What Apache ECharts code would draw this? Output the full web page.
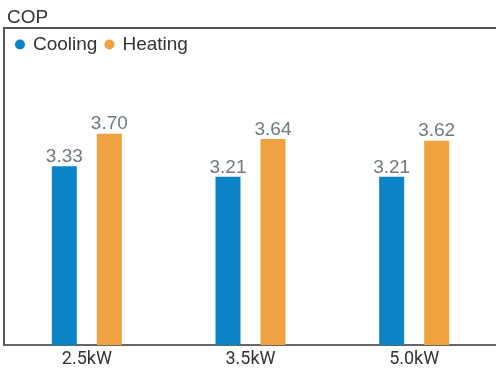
<!DOCTYPE html>
<html>
<head>
<meta charset="utf-8">
<script src="https://cdn.jsdelivr.net/npm/echarts@6/dist/echarts.min.js"></script>
<style>
  html, body { margin: 0; padding: 0; background: #fff; }
  #chart { width: 496px; height: 370px; }
</style>
</head>
<body>
<div id="chart"></div>
<script>
// Unit sizes and COP values per mode
const categories = ['2.5kW', '3.5kW', '5.0kW'];
const coolingCOP = [3.33, 3.21, 3.21];
const heatingCOP = [3.70, 3.64, 3.62];
const seriesNames = ['Cooling', 'Heating'];

const chart = echarts.init(document.getElementById('chart'), null, { renderer: 'canvas' });

const valueLabel = {
  show: true,
  position: 'top',
  distance: 0,
  color: '#6f7982',
  fontSize: 19,
  fontFamily: 'Liberation Sans, Arial, sans-serif',
  formatter: p => p.value.toFixed(2)
};

const frameStyle = { stroke: '#555', lineWidth: 2 };

chart.setOption({
  animation: false,
  title: {
    text: 'COP',
    left: 2,
    top: 3,
    textStyle: { fontSize: 19, fontWeight: 'normal', color: '#333', fontFamily: 'Liberation Sans, Arial, sans-serif' }
  },
  legend: {
    left: 10,
    top: 30,
    icon: 'circle',
    itemWidth: 16,
    itemHeight: 10,
    itemGap: 7,
    textStyle: { fontSize: 19, color: '#333', fontFamily: 'Liberation Sans, Arial, sans-serif' }
  },
  // open frame: left edge and top edge of the plot box
  graphic: [
    { type: 'line', shape: { x1: 4, y1: 28, x2: 4, y2: 346 }, style: frameStyle, silent: true },
    { type: 'line', shape: { x1: 3, y1: 28, x2: 496, y2: 28 }, style: frameStyle, silent: true }
  ],
  grid: {
    left: 5,
    top: 28,
    width: 493,
    height: 317
  },
  xAxis: {
    type: 'category',
    data: categories,
    axisLine: { show: true, lineStyle: { color: '#666', width: 2 } },
    axisTick: { show: false },
    axisLabel: { color: '#333', fontSize: 18, margin: 5, fontFamily: 'Roboto, sans-serif' }
  },
  yAxis: {
    type: 'value',
    min: 1.3,
    max: 4.9,
    show: false,
    splitLine: { show: false }
  },
  series: [
    {
      name: seriesNames[0],
      type: 'bar',
      data: coolingCOP,
      barWidth: 25,
      barGap: '80%',
      itemStyle: { color: '#0a84c6' },
      label: valueLabel
    },
    {
      name: seriesNames[1],
      type: 'bar',
      data: heatingCOP,
      barWidth: 25,
      barGap: '80%',
      itemStyle: { color: '#efa23f' },
      label: valueLabel
    }
  ]
});
</script>
</body>
</html>
